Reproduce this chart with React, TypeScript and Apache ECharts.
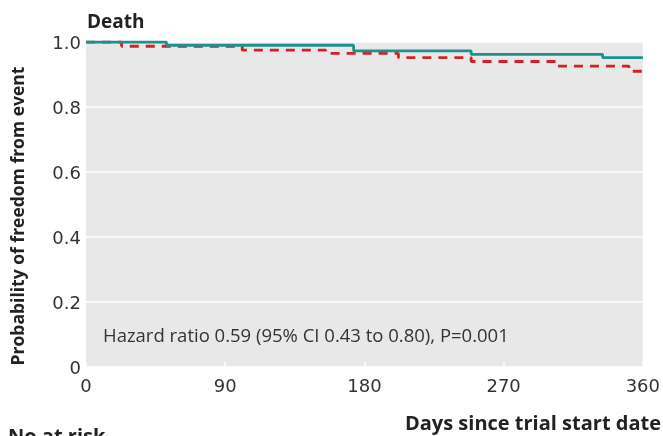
import React, { useEffect, useRef } from "react";
import * as echarts from "echarts";

const xTicks = [0, 90, 180, 270, 360];
const yTicks = [0, 0.2, 0.4, 0.6, 0.8, 1.0];

const tealDays = [0, 52, 173, 249, 334, 360];
const tealSurv = [1.0, 0.99, 0.973, 0.962, 0.952, 0.952];

const redDays = [0, 23, 101, 155, 202, 249, 304, 351, 360];
const redSurv = [1.0, 0.987, 0.975, 0.965, 0.952, 0.94, 0.926, 0.91, 0.91];

const FONT = "'Open Sans', 'Noto Sans', sans-serif";
const NUMFONT = "'DejaVu Sans', 'Open Sans', sans-serif";

export default function App() {
  const ref = useRef<HTMLDivElement>(null);
  useEffect(() => {
    document.body.style.margin = "0";
    const chart = echarts.init(ref.current!, null, { renderer: "svg" });
    const teal = tealDays.map((d, i) => [d, tealSurv[i]]);
    const red = redDays.map((d, i) => [d, redSurv[i]]);
    chart.setOption({
      animation: false,
      textStyle: { fontFamily: FONT },
      grid: {
        left: 86,
        right: 20,
        top: 42,
        bottom: 69,
        show: true,
        backgroundColor: "#e8e8e8",
        borderWidth: 0,
      },
      xAxis: {
        type: "value",
        min: 0,
        max: 360,
        interval: 90,
        axisLine: { show: false },
        axisTick: { show: true, inside: true, length: 5, lineStyle: { color: "#ffffff", width: 1.5 } },
        splitLine: { show: false },
        axisLabel: {
          color: "#333",
          fontSize: 18,
          margin: 9,
          fontFamily: NUMFONT,
          formatter: (v: number) => (xTicks.includes(v) ? String(v) : ""),
        },
      },
      yAxis: {
        type: "value",
        min: 0,
        max: 1,
        interval: 0.2,
        axisLine: { show: false },
        axisTick: { show: false },
        splitLine: { show: true, lineStyle: { color: "#ffffff", width: 1.5 } },
        axisLabel: {
          color: "#333",
          fontSize: 18,
          margin: 5,
          fontFamily: NUMFONT,
          formatter: (v: number) => {
            const t = yTicks.find((y) => Math.abs(y - v) < 1e-6);
            if (t === undefined) return "";
            return t === 0 ? "0" : t.toFixed(1);
          },
        },
      },
      series: [
        {
          type: "line",
          step: "end",
          data: red,
          showSymbol: false,
          symbol: "none",
          lineStyle: { color: "#d42027", width: 2.8, type: [9, 7] },
          z: 2,
        },
        {
          type: "line",
          step: "end",
          data: teal,
          showSymbol: false,
          symbol: "none",
          lineStyle: { color: "#1b928f", width: 2.8 },
          z: 3,
        },
      ],
      graphic: [
        {
          type: "text",
          x: 87,
          y: 21,
          style: {
            text: "Death",
            fontSize: 19,
            fontWeight: "bold",
            fill: "#222",
            fontFamily: FONT,
            verticalAlign: "middle",
          },
        },
        {
          type: "text",
          x: 17,
          y: 216,
          rotation: Math.PI / 2,
          style: {
            text: "Probability of freedom from event",
            fontSize: 17.5,
            fontWeight: "bold",
            fill: "#222",
            fontFamily: FONT,
            align: "center",
            verticalAlign: "middle",
          },
        },
        {
          type: "text",
          x: 103,
          y: 334,
          style: {
            text: "Hazard ratio 0.59 (95% CI 0.43 to 0.80), P=0.001",
            fontSize: 18.5,
            fill: "#333",
            fontFamily: FONT,
            verticalAlign: "middle",
          },
        },
        {
          type: "text",
          x: 661,
          y: 422,
          style: {
            text: "Days since trial start date",
            fontSize: 20,
            fontWeight: "bold",
            fill: "#222",
            fontFamily: FONT,
            align: "right",
            verticalAlign: "middle",
          },
        },
        {
          type: "text",
          x: 8,
          y: 425,
          style: {
            text: "No at risk",
            fontSize: 20,
            fontWeight: "bold",
            fill: "#222",
            fontFamily: FONT,
            verticalAlign: "top",
          },
        },
      ],
    });
    return () => chart.dispose();
  }, []);
  return (
    <div
      ref={ref}
      style={{ position: "fixed", left: 0, top: 0, width: 663, height: 436 }}
    />
  );
}
